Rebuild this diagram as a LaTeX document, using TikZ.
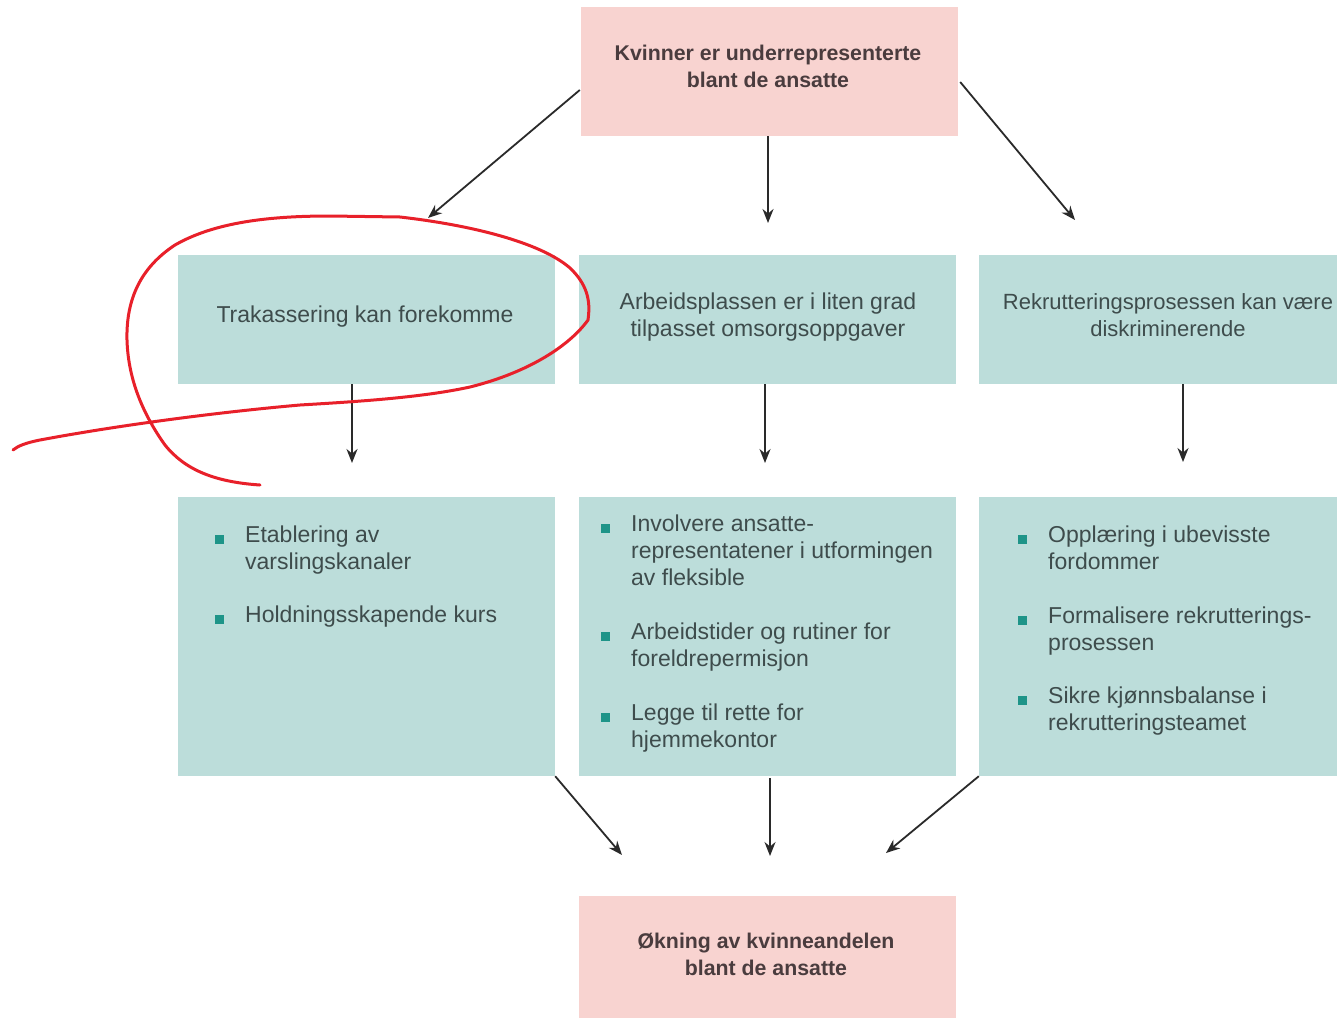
\documentclass[tikz,border=0pt]{standalone}
\usepackage{fontspec}
\setmainfont{Liberation Sans}
\usetikzlibrary{arrows.meta}
\definecolor{pinkfill}{HTML}{F8D3D0}
\definecolor{tealfill}{HTML}{BCDDDA}
\definecolor{bulcol}{HTML}{1E9488}
\definecolor{txtteal}{HTML}{3E4C4C}
\definecolor{txtpink}{HTML}{4A3C3E}
\definecolor{arrowcol}{HTML}{2A2A2A}
\definecolor{redmark}{HTML}{E8202A}
\tikzset{
  pinkbox/.style={fill=pinkfill, draw=none, inner sep=0pt},
  tealbox/.style={fill=tealfill, draw=none, inner sep=0pt},
  pinktext/.style={inner sep=0pt, text=txtpink, align=center,
    font=\fontsize{21.3}{27}\selectfont\bfseries},
  tealtext/.style={inner sep=0pt, text=txtteal, align=center,
    font=\fontsize{23}{27.5}\selectfont},
  itemtext/.style={anchor=north west, inner sep=0pt, text=txtteal, align=left,
    font=\fontsize{23}{27}\selectfont},
  bulletsq/.style={fill=bulcol, draw=none, minimum size=9pt, inner sep=0pt},
  conn/.style={draw=arrowcol, line width=1.8pt, -{Stealth[length=14pt,width=11pt]}},
  redpen/.style={draw=redmark, line width=3pt, line cap=round, line join=round}
}
\begin{document}
\begin{tikzpicture}[x=1pt,y=-1pt]
\useasboundingbox (0,0) rectangle (1337,1017);
\clip (0,0) rectangle (1337,1017);
\fill[white] (0,0) rectangle (1337,1017);

% top box
\node[pinkbox, minimum width=377pt, minimum height=129pt] (top) at (769.5,71.5) {};
\node[pinktext] (toptxt) at (768,66) {Kvinner er underrepresenterte\\blant de ansatte};

% middle row
\node[tealbox, minimum width=377pt, minimum height=129pt] (m1) at (366.5,319.5) {};
\node[tealtext] (m1txt) at (365,317) {Trakassering kan forekomme};
\node[tealbox, minimum width=377pt, minimum height=129pt] (m2) at (767.5,319.5) {};
\node[tealtext] (m2txt) at (768,317) {Arbeidsplassen er i liten grad\\tilpasset omsorgsoppgaver};
\node[tealbox, minimum width=400pt, minimum height=129pt] (m3) at (1179,319.5) {};
\node[tealtext, font=\fontsize{22}{27.5}\selectfont] (m3txt) at (1168,315) {Rekrutteringsprosessen kan være\\diskriminerende};

% bullet row boxes
\node[tealbox, minimum width=377pt, minimum height=279pt] (b1) at (366.5,636.5) {};
\node[tealbox, minimum width=377pt, minimum height=279pt] (b2) at (767.5,636.5) {};
\node[tealbox, minimum width=400pt, minimum height=279pt] (b3) at (1179,636.5) {};

% left bullets
\node[bulletsq] (b1s1) at (219,539) {};
\node[itemtext] (b1t1) at (245,526) {Etablering av\\varslingskanaler};
\node[bulletsq] (b1s2) at (219,619) {};
\node[itemtext] (b1t2) at (245,606) {Holdningsskapende kurs};

% middle bullets
\node[bulletsq] (b2s1) at (605,528) {};
\node[itemtext] (b2t1) at (631,515) {Involvere ansatte-\\representatener i utformingen\\av fleksible};
\node[bulletsq] (b2s2) at (605,636) {};
\node[itemtext] (b2t2) at (631,623) {Arbeidstider og rutiner for\\foreldrepermisjon};
\node[bulletsq] (b2s3) at (605,717) {};
\node[itemtext] (b2t3) at (631,704) {Legge til rette for\\hjemmekontor};

% right bullets
\node[bulletsq] (b3s1) at (1022,539) {};
\node[itemtext] (b3t1) at (1048,526) {Opplæring i ubevisste\\fordommer};
\node[bulletsq] (b3s2) at (1022,620) {};
\node[itemtext] (b3t2) at (1048,607) {Formalisere rekrutterings-\\prosessen};
\node[bulletsq] (b3s3) at (1022,700) {};
\node[itemtext] (b3t3) at (1048,687) {Sikre kjønnsbalanse i\\rekrutteringsteamet};

% bottom box
\node[pinkbox, minimum width=377pt, minimum height=122pt] (bot) at (767.5,957) {};
\node[pinktext] (bottxt) at (766,954) {Økning av kvinneandelen\\blant de ansatte};

% arrow end coordinates
\coordinate (a1e) at (428,218);
\coordinate (a2e) at (768,223);
\coordinate (a3e) at (1075,220);
\coordinate (c1e) at (352,463);
\coordinate (c2e) at (765,463);
\coordinate (c3e) at (1183,462);
\coordinate (d1e) at (622,855);
\coordinate (d2e) at (770,856);
\coordinate (d3e) at (886,853);

\draw[conn] (top.west |- 0,90) ++(-1,0) -- (a1e);
\draw[conn] (top.south -| a2e) -- (a2e);
\draw[conn] (top.east |- 0,82) ++(2,0) -- (a3e);

\draw[conn] (m1.south -| c1e) -- (c1e);
\draw[conn] (m2.south -| c2e) -- (c2e);
\draw[conn] (m3.south -| c3e) -- (c3e);

\draw[conn] (b1.south east) -- (d1e);
\draw[conn] (b2.south -| d2e) ++(0,2) -- (d2e);
\draw[conn] (b3.south west) -- (d3e);

% red hand-drawn annotation
\draw[redpen] (260,485) .. controls (215,482) and (185,470) .. (165,445)
  .. controls (140,410) and (128,375) .. (127,340)
  .. controls (126,300) and (140,268) .. (175,245)
  .. controls (215,222) and (270,216) .. (330,216)
  -- (400,217)
  .. controls (470,225) and (540,242) .. (570,268)
  .. controls (590,287) and (590,305) .. (588,320)
  .. controls (570,345) and (530,372) .. (470,387)
  .. controls (420,398) and (350,402) .. (300,405)
  .. controls (220,412) and (120,425) .. (40,440)
  .. controls (25,443) and (18,446) .. (13,450);
\end{tikzpicture}
\end{document}
